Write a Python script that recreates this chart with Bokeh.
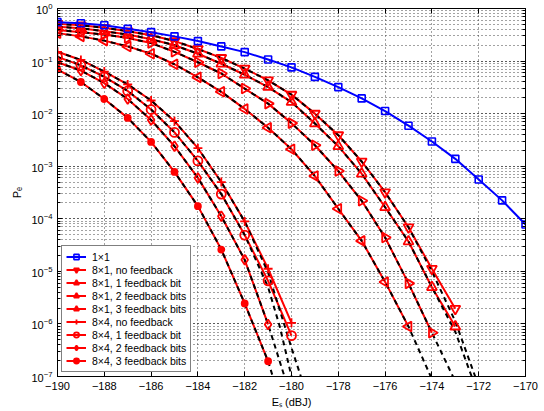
import math
from bokeh.plotting import figure
from bokeh.models import Range1d, LinearAxis, LogAxis, FixedTicker, LogTicker, Legend, LegendItem
from bokeh.embed import file_html
from bokeh.resources import INLINE

FONT = "Liberation Sans"

# ---------------- data ----------------
es_1x1 = list(range(-190, -169))
pe_1x1 = [0.55, 0.525, 0.48, 0.41, 0.355, 0.295, 0.24, 0.19, 0.148, 0.107, 0.076,
          0.050, 0.032, 0.0195, 0.0112, 0.0059, 0.00295, 0.00138, 5.6e-4, 2.24e-4, 7.8e-5]

es_8x1_nofb = list(range(-190, -172))
pe_8x1_nofb = [0.51, 0.48, 0.43, 0.37, 0.31, 0.24, 0.17, 0.115, 0.072, 0.043, 0.023,
               0.010, 0.0039, 1.23e-3, 3.2e-4, 6.9e-5, 1.12e-5, 1.95e-6]
es_8x1_1b = list(range(-190, -172))
pe_8x1_1b = [0.45, 0.42, 0.37, 0.32, 0.26, 0.20, 0.138, 0.089, 0.055, 0.032, 0.0166,
             0.0065, 0.0024, 7.2e-4, 1.66e-4, 3.7e-5, 5.0e-6, 8.9e-7]
es_8x1_2b = list(range(-190, -173))
pe_8x1_2b = [0.39, 0.355, 0.32, 0.275, 0.22, 0.15, 0.095, 0.058, 0.030, 0.0155, 0.0066,
             0.0025, 8.1e-4, 2.2e-4, 4.4e-5, 5.9e-6, 6.8e-7]
es_8x1_3b = list(range(-190, -174))
pe_8x1_3b = [0.34, 0.295, 0.245, 0.19, 0.138, 0.087, 0.049, 0.026, 0.0123, 0.0054,
             0.0021, 6.5e-4, 1.55e-4, 3.8e-5, 6.3e-6, 8.9e-7]

es_8x4_nofb = list(range(-190, -179))
pe_8x4_nofb = [0.15, 0.105, 0.063, 0.036, 0.0178, 0.0072, 0.0022, 5.0e-4, 8.9e-5, 1.12e-5, 1.05e-6]
es_8x4_1b = list(range(-190, -179))
pe_8x4_1b = [0.12, 0.083, 0.050, 0.027, 0.012, 0.0044, 1.26e-3, 2.95e-4, 4.9e-5, 6.6e-6, 6.0e-7]
es_8x4_2b = list(range(-190, -180))
pe_8x4_2b = [0.095, 0.066, 0.038, 0.019, 0.0076, 0.0024, 6.0e-4, 1.12e-4, 1.66e-5, 9.8e-7]
es_8x4_3b = list(range(-190, -180))
pe_8x4_3b = [0.069, 0.040, 0.019, 0.0083, 0.0029, 7.8e-4, 1.74e-4, 2.6e-5, 2.45e-6, 1.95e-7]

# approximations (black dashed)
es_apx_8x1_nofb = list(range(-190, -172)) + [-172.15]
pe_apx_8x1_nofb = pe_8x1_nofb[:16] + [1.0e-5, 1.12e-6, 1e-7]
es_apx_8x1_1b = list(range(-190, -172)) + [-172.3]
pe_apx_8x1_1b = pe_8x1_1b[:17] + [7.1e-7, 1e-7]
es_apx_8x1_2b = es_8x1_2b + [-173.1]
pe_apx_8x1_2b = pe_8x1_2b + [1e-7]
es_apx_8x1_3b = es_8x1_3b + [-174.05]
pe_apx_8x1_3b = pe_8x1_3b + [1e-7]

es_apx_8x4_nofb = list(range(-190, -180)) + [-180, -179.6]
pe_apx_8x4_nofb = pe_8x4_nofb[:9] + [9.5e-6, 3.5e-7, 1e-7]
es_apx_8x4_1b = list(range(-190, -180)) + [-180.5, -180.0]
pe_apx_8x4_1b = pe_8x4_1b[:9] + [5.0e-6, 8.9e-7, 1e-7]
es_apx_8x4_2b = es_8x4_2b + [-180.3]
pe_apx_8x4_2b = pe_8x4_2b + [1e-7]
es_apx_8x4_3b = es_8x4_3b + [-180.8]
pe_apx_8x4_3b = pe_8x4_3b + [1e-7]

x_ticks = list(range(-190, -169, 2))
x_tick_labels = {t: "\u2212" + str(abs(t)) for t in x_ticks}

labels = ["1\u00d71", "8\u00d71, no feedback", "8\u00d71, 1 feedback bit",
          "8\u00d71, 2 feedback bits", "8\u00d71, 3 feedback bits",
          "8\u00d74, no feedback", "8\u00d74, 1 feedback bit",
          "8\u00d74, 2 feedback bits", "8\u00d74, 3 feedback bits"]

# ---------------- figure ----------------
p = figure(frame_width=468, frame_height=368, x_range=Range1d(-190, -170), y_range=Range1d(1e-7, 1),
           y_axis_type="log", output_backend="svg", toolbar_location=None,
           min_border_left=57, min_border_right=19, min_border_top=8, min_border_bottom=35)
p.background_fill_color = "white"
p.border_fill_color = "white"
p.outline_line_color = "black"
p.outline_line_width = 1

p.xaxis.ticker = FixedTicker(ticks=x_ticks)
p.xaxis.major_label_overrides = x_tick_labels
p.yaxis.ticker = LogTicker(num_minor_ticks=10)

for ax in (p.xaxis[0], p.yaxis[0]):
    ax.major_tick_in = 5
    ax.major_tick_out = 0
    ax.minor_tick_in = 3
    ax.minor_tick_out = 0
    ax.axis_line_color = "black"
    ax.major_tick_line_color = "black"
    ax.minor_tick_line_color = "black"
    ax.major_label_text_font = FONT
    ax.major_label_text_font_size = "11px"
    ax.major_label_text_color = "black"
    ax.axis_label_text_font = FONT
    ax.axis_label_text_font_size = "11px"
    ax.axis_label_text_font_style = "normal"
    ax.axis_label_text_color = "black"
p.xaxis.major_label_standoff = 5
p.xaxis.axis_label_standoff = 3
p.yaxis.major_label_standoff = 5
p.yaxis.axis_label_standoff = 5
p.xaxis.axis_label = "E\u209b (dBJ)"
p.yaxis.axis_label = "P\u2091"

top_ax = LinearAxis(ticker=FixedTicker(ticks=x_ticks), major_tick_in=5, major_tick_out=0,
                    minor_tick_in=0, minor_tick_out=0, major_label_text_font_size="0px",
                    major_label_standoff=0, major_label_text_color=None)
right_ax = LogAxis(ticker=LogTicker(num_minor_ticks=10), major_tick_in=5, major_tick_out=0,
                   minor_tick_in=3, minor_tick_out=0, major_label_text_font_size="0px",
                   major_label_standoff=0, major_label_text_color=None)
p.add_layout(top_ax, "above")
p.add_layout(right_ax, "right")

for g in (p.xgrid[0], p.ygrid[0]):
    g.grid_line_color = "#444444"
    g.grid_line_dash = "1 3"
    g.grid_line_width = 1
p.xgrid.ticker = FixedTicker(ticks=x_ticks)
p.ygrid.minor_grid_line_color = "#444444"
p.ygrid.minor_grid_line_dash = "1 3"

RED = "#ff0000"
BLUE = "#0000ff"

red_series = [
    (es_8x1_nofb, pe_8x1_nofb, dict(marker="inverted_triangle", size=10, angle=0.0)),
    (es_8x1_1b, pe_8x1_1b, dict(marker="triangle", size=10, angle=0.0)),
    (es_8x1_2b, pe_8x1_2b, dict(marker="triangle", size=10, angle=-math.pi / 2)),
    (es_8x1_3b, pe_8x1_3b, dict(marker="triangle", size=10, angle=math.pi / 2)),
    (es_8x4_nofb, pe_8x4_nofb, dict(marker="cross", size=9, angle=0.0)),
    (es_8x4_1b, pe_8x4_1b, dict(marker="circle", size=9, angle=0.0)),
    (es_8x4_2b, pe_8x4_2b, dict(marker="diamond", size=10, angle=0.0)),
    (es_8x4_3b, pe_8x4_3b, dict(marker="circle", size=6, angle=0.0, fill=True)),
]
apx_series = [
    (es_apx_8x1_nofb, pe_apx_8x1_nofb), (es_apx_8x1_1b, pe_apx_8x1_1b),
    (es_apx_8x1_2b, pe_apx_8x1_2b), (es_apx_8x1_3b, pe_apx_8x1_3b),
    (es_apx_8x4_nofb, pe_apx_8x4_nofb), (es_apx_8x4_1b, pe_apx_8x4_1b),
    (es_apx_8x4_2b, pe_apx_8x4_2b), (es_apx_8x4_3b, pe_apx_8x4_3b),
]

red_lines = [p.line(x, y, line_color=RED, line_width=2) for x, y, _ in red_series]
for x, y in apx_series:
    p.line(x, y, line_color="black", line_width=2, line_dash="5 4")
red_marks = []
for x, y, m in red_series:
    r = p.scatter(x, y, marker=m["marker"], size=m["size"], angle=m["angle"],
                  line_color=RED, line_width=1.8,
                  fill_color=RED if m.get("fill") else None)
    red_marks.append(r)

blue_line = p.line(es_1x1, pe_1x1, line_color=BLUE, line_width=2)
blue_mark = p.scatter(es_1x1, pe_1x1, marker="square", size=7, line_color=BLUE,
                      line_width=1.6, fill_color=None)

items = [LegendItem(label=labels[0], renderers=[blue_line, blue_mark])]
for i in range(8):
    items.append(LegendItem(label=labels[i + 1], renderers=[red_lines[i], red_marks[i]]))

legend = Legend(items=items, location=(4, 4))
legend.label_text_font = FONT
legend.label_text_font_size = "10.5px"
legend.label_text_color = "black"
legend.label_height = 13
legend.glyph_height = 13
legend.glyph_width = 20
legend.label_standoff = 6
legend.spacing = 0
legend.padding = 4
legend.margin = 0
legend.border_line_color = "black"
legend.border_line_width = 1
legend.background_fill_color = "white"
legend.background_fill_alpha = 1.0
p.add_layout(legend)

open("out.html", "w").write(file_html(p, INLINE))
